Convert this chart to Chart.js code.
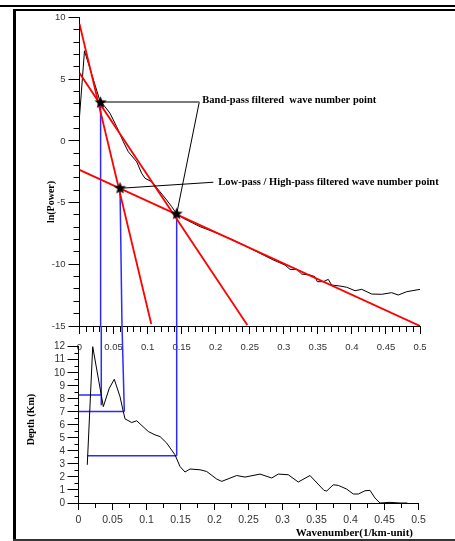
<!DOCTYPE html>
<html>
<head>
<meta charset="utf-8">
<script src="https://cdn.jsdelivr.net/npm/chart.js@4"></script>
<style>
  html, body { margin: 0; padding: 0; background: #fff; }
  #sheet { position: relative; width: 455px; height: 541px; overflow: hidden; background: #fff; }
  #sheet canvas { position: absolute; left: 0; top: 0; }
  .rule { position: absolute; background: #000; }
</style>
</head>
<body>
<div id="sheet">
  <div class="rule" style="left:0;top:5px;width:455px;height:2px"></div>
  <div class="rule" style="left:13px;top:9px;width:442px;height:2px"></div>
  <div class="rule" style="left:13px;top:9px;width:3px;height:531px"></div>
  <div class="rule" style="left:13px;top:539px;width:442px;height:1.5px;background:#333"></div>
  <canvas id="spectrum" width="455" height="541"></canvas>
  <canvas id="depth" width="455" height="541"></canvas>
</div>
<script>
// ---- Radially averaged power spectrum (wavenumber in 1/km-unit, ln of power)
const specK = [0, 0.0073, 0.030, 0.0374, 0.0448, 0.0546, 0.0643, 0.0717, 0.084, 0.0913,
  0.0962, 0.106, 0.1182, 0.128, 0.1354, 0.1427, 0.1524, 0.177, 0.1965, 0.2258,
  0.2455, 0.2651, 0.2846, 0.3018, 0.3091, 0.319, 0.3263, 0.3385, 0.3458, 0.3492,
  0.358, 0.3653, 0.3703, 0.3825, 0.3924, 0.4046, 0.4144, 0.4291, 0.4438, 0.4584,
  0.4681, 0.4805, 0.5];
const specLnP = [1.96, 7.3, 3.25, 2.77, 2.24, 1.15, -0.06, -0.88, -1.69, -2.63,
  -3.03, -3.31, -4.12, -4.79, -5.33, -5.92, -6.27, -6.95, -7.36, -8.03,
  -8.57, -9.11, -9.65, -10.06, -10.41, -10.41, -10.79, -10.87, -11.0, -11.41,
  -11.41, -11.22, -11.68, -11.76, -11.86, -12.14, -12.03, -12.41, -12.43, -12.30,
  -12.49, -12.22, -12.03];

// ---- Depth estimate against wavenumber (km)
const depthK = [0.0129, 0.0209, 0.0365, 0.0453, 0.0526, 0.061, 0.0659, 0.0684, 0.0782, 0.0856,
  0.1026, 0.1125, 0.1199, 0.1297, 0.1419, 0.1493, 0.1566, 0.164, 0.1787, 0.1885,
  0.2032, 0.2106, 0.2326, 0.2449, 0.2669, 0.2841, 0.2938, 0.3085, 0.3232, 0.3404,
  0.361, 0.365, 0.3747, 0.3821, 0.3944, 0.4041, 0.4115, 0.4213, 0.4287, 0.436,
  0.4434, 0.4581, 0.4728, 0.4835];
const depthKm = [2.93, 12.0, 7.40, 8.81, 9.50, 8.17, 7.02, 6.46, 6.18, 6.31,
  5.49, 5.23, 5.10, 4.60, 3.70, 2.80, 2.38, 2.61, 2.55, 2.42,
  1.84, 1.66, 2.11, 1.99, 2.22, 1.92, 2.22, 2.17, 1.61, 2.11,
  0.97, 0.92, 1.40, 1.35, 1.07, 0.69, 0.69, 0.94, 0.97, 0.38,
  0.0, 0.05, 0.0, 0.0];

// ---- Straight-line fits to the three spectral segments (end points)
const fitDeepK = [0, 0.1054];
const fitDeepLnP = [9.47, -14.84];
const fitMidK = [0, 0.2464];
const fitMidLnP = [5.50, -14.92];
const fitShallowK = [0, 0.5];
const fitShallowLnP = [-2.35, -15];

// ---- Filter cut-off wavenumbers (intersections of the fits)
const cutK = [0.031, 0.0595, 0.1427];
const cutLnP = [3.10, -3.84, -5.92];
const dropBaseK = [0.031, 0.0624, 0.1427];     // where each drop line meets the spectrum axis
const dropTopK = [0.0335, 0.0640, 0.1444];     // same lines entering the depth panel
const dropK = [0.0335, 0.0674, 0.1444];        // lower ends in the depth panel
const dropDepth = [7.5, 7.02, 3.62];
const readDepth = [8.3, 7.02, 3.62];
const readStartK = [0, 0, 0.013];

// ---- Callout leaders
const bandLeaderK = [0.1759];
const bandLeaderLnP = [3.15];
const lowLeaderK = [0.1965];
const lowLeaderLnP = [-3.35];
const bandLabel = 'Band-pass filtered  wave number point';
const lowLabel = 'Low-pass / High-pass filtered wave number point';

// ---- Axis ranges and tick labels
const powerMin = -15, powerMax = 10;
const depthMin = 0, depthMax = 12;
const waveMin = 0, waveMax = 0.5;
const powerTickLabels = [10, 5, 0, -5, -10, -15];
const depthTickLabels = [0, 1, 2, 3, 4, 5, 6, 7, 8, 9, 10, 11, 12];
const waveTickLabels = [0, 0.05, 0.1, 0.15, 0.2, 0.25, 0.3, 0.35, 0.4, 0.45, 0.5];
const powerTitle = 'ln(Power)';
const depthTitle = 'Depth (Km)';
const waveTitle = 'Wavenumber(1/km-unit)';

const SANS = "'Liberation Sans', Arial, sans-serif";
const SERIF = "'Liberation Serif', 'Times New Roman', serif";
const RED = '#ff0000';
const BLUE = '#2b2bff';

const pts = (xs, ys) => xs.map((x, i) => ({ x, y: ys[i] }));
const isMajor = (v, step) => Math.abs(v / step - Math.round(v / step)) < 1e-6;

function polyline(xs, ys, color, width, extra) {
  return Object.assign({
    data: pts(xs, ys), showLine: true, borderColor: color, borderWidth: width,
    pointRadius: 0, pointHoverRadius: 0, tension: 0, fill: false
  }, extra || {});
}

// Linear axis with long major ticks and short minor ticks
function tickAxis(o) {
  return {
    type: 'linear', position: o.position, min: o.min, max: o.max,
    border: { display: true, color: '#000', width: 1 },
    grid: {
      drawOnChartArea: false, drawTicks: true, tickLength: o.majorLen,
      tickColor: '#000', tickWidth: 1,
      tickBorderDash: (ctx) => {
        if (!ctx.tick || isMajor(ctx.tick.value, o.majorStep)) return [];
        return o.horizontal ? [o.minorLen, 200] : [0, o.majorLen - o.minorLen, o.minorLen, 200];
      }
    },
    ticks: {
      stepSize: o.step, autoSkip: false, maxRotation: 0, minRotation: 0,
      padding: o.padding, color: '#333', font: { family: SANS, size: o.fontSize },
      callback: (v) => {
        const hit = o.labels.find((l) => Math.abs(l - v) < 1e-9);
        return hit === undefined ? '' : String(hit);
      }
    },
    afterFit: (s) => { if (o.horizontal) s.height = o.size; else s.width = o.size; }
  };
}

function makeStar(r) {
  const c = document.createElement('canvas');
  const s = Math.ceil(r * 2 + 2);
  c.width = c.height = s;
  const g = c.getContext('2d');
  g.translate(s / 2, s / 2);
  g.beginPath();
  for (let i = 0; i < 10; i++) {
    const rr = i % 2 ? r * 0.42 : r;
    const a = -Math.PI / 2 + i * Math.PI / 5;
    g.lineTo(rr * Math.cos(a), rr * Math.sin(a));
  }
  g.closePath();
  g.fillStyle = '#000';
  g.fill();
  return c;
}

const common = {
  responsive: false, animation: false, devicePixelRatio: 1, events: [],
  plugins: { legend: { display: false }, tooltip: { enabled: false }, title: { display: false } }
};

// Callout texts and axis title of the spectrum panel
const spectrumText = {
  id: 'spectrumText',
  afterDatasetsDraw(chart) {
    const { ctx, chartArea } = chart;
    const x = chart.scales.x, y = chart.scales.y;
    ctx.save();
    ctx.fillStyle = '#000';
    ctx.font = 'bold 10.5px ' + SERIF;
    ctx.textAlign = 'left';
    ctx.textBaseline = 'alphabetic';
    ctx.fillText(bandLabel, x.getPixelForValue(bandLeaderK[0]) + 3, y.getPixelForValue(bandLeaderLnP[0]) + 0.5);
    ctx.fillText(lowLabel, x.getPixelForValue(lowLeaderK[0]) + 5, y.getPixelForValue(lowLeaderLnP[0]) + 2.5);
    ctx.font = 'bold 10px ' + SERIF;
    ctx.translate(chartArea.left - 28, y.getPixelForValue(-4.95));
    ctx.rotate(-Math.PI / 2);
    ctx.textAlign = 'center';
    ctx.textBaseline = 'middle';
    ctx.fillText(powerTitle, 0, 0);
    ctx.restore();
  }
};

// Axis titles of the depth panel
const depthText = {
  id: 'depthText',
  afterDatasetsDraw(chart) {
    const { ctx, chartArea } = chart;
    const y = chart.scales.y;
    ctx.save();
    ctx.fillStyle = '#000';
    ctx.font = 'bold 11px ' + SERIF;
    ctx.textAlign = 'right';
    ctx.textBaseline = 'alphabetic';
    ctx.fillText(waveTitle, chartArea.right - 5.5, chartArea.bottom + 33);
    ctx.font = 'bold 10px ' + SERIF;
    ctx.translate(chartArea.left - 47, y.getPixelForValue(6.4));
    ctx.rotate(-Math.PI / 2);
    ctx.textAlign = 'center';
    ctx.textBaseline = 'middle';
    ctx.fillText(depthTitle, 0, 0);
    ctx.restore();
  }
};

const star = makeStar(6.5);

const spectrumSets = [
  Object.assign({ data: pts(cutK, cutLnP), showLine: false, pointStyle: star, pointRadius: 6, order: 0 }),
  polyline([cutK[0], bandLeaderK[0]], [bandLeaderLnP[0], bandLeaderLnP[0]], '#7a7a7a', 2, { order: 1 }),
  polyline([bandLeaderK[0], cutK[2]], [bandLeaderLnP[0], cutLnP[2]], '#000', 1, { order: 1 }),
  polyline([cutK[1], lowLeaderK[0]], [cutLnP[1], lowLeaderLnP[0]], '#000', 1, { order: 1 }),
  polyline(fitDeepK, fitDeepLnP, RED, 1.8, { order: 2 }),
  polyline(fitMidK, fitMidLnP, RED, 1.8, { order: 2 }),
  polyline(fitShallowK, fitShallowLnP, RED, 1.8, { order: 2 }),
  polyline(specK, specLnP, '#000', 1, { order: 3, clip: false })
];
for (let i = 0; i < cutK.length; i++) {
  spectrumSets.push(polyline([cutK[i], dropBaseK[i]], [cutLnP[i], powerMin], BLUE, 1.5, { order: 4 }));
}

const spectrumChart = new Chart(document.getElementById('spectrum'), {
  type: 'scatter',
  data: { datasets: spectrumSets },
  options: Object.assign({}, common, {
    layout: { padding: { left: 0, top: 17.5, right: 35, bottom: 185 } },
    scales: {
      x: tickAxis({ position: 'bottom', min: waveMin, max: waveMax, step: 0.01, majorStep: 0.05,
        majorLen: 8, minorLen: 5, labels: waveTickLabels, fontSize: 9.5, padding: 8, horizontal: true, size: 30 }),
      y: tickAxis({ position: 'left', min: powerMin, max: powerMax, step: 1, majorStep: 5,
        majorLen: 11, minorLen: 6, labels: powerTickLabels, fontSize: 9.5, padding: 3, horizontal: false, size: 79.5 })
    }
  }),
  plugins: [spectrumText]
});

const dropSets = [];
const depthSets = [polyline(depthK, depthKm, '#000', 1, { order: 1, clip: false })];
for (let i = 0; i < dropK.length; i++) {
  const d = polyline([dropTopK[i], dropK[i]], [depthMax, dropDepth[i]], BLUE, 1.5, { order: 2, clip: false });
  dropSets.push(d);
  depthSets.push(d);
  depthSets.push(polyline([readStartK[i], dropK[i]], [readDepth[i], readDepth[i]], BLUE, 1.5, { order: 2 }));
}

const depthChart = new Chart(document.getElementById('depth'), {
  type: 'scatter',
  data: { datasets: depthSets },
  options: Object.assign({}, common, {
    layout: { padding: { left: 0, top: 346.7, right: 36.5, bottom: 0 } },
    scales: {
      x: tickAxis({ position: 'bottom', min: waveMin, max: waveMax, step: 0.025, majorStep: 0.05,
        majorLen: 7, minorLen: 4, labels: waveTickLabels, fontSize: 10.5, padding: 4, horizontal: true, size: 38 }),
      y: tickAxis({ position: 'left', min: depthMin, max: depthMax, step: 0.5, majorStep: 1,
        majorLen: 11, minorLen: 4, labels: depthTickLabels, fontSize: 10, padding: 2.5, horizontal: false, size: 78.5 })
    }
  }),
  plugins: [depthText]
});

// Carry the drop lines up to the spectrum panel's wavenumber axis
const axisLevel = depthChart.scales.y.getValueForPixel(spectrumChart.scales.y.getPixelForValue(powerMin));
dropSets.forEach((d) => { d.data[0].y = axisLevel; });
depthChart.update('none');
</script>
</body>
</html>
